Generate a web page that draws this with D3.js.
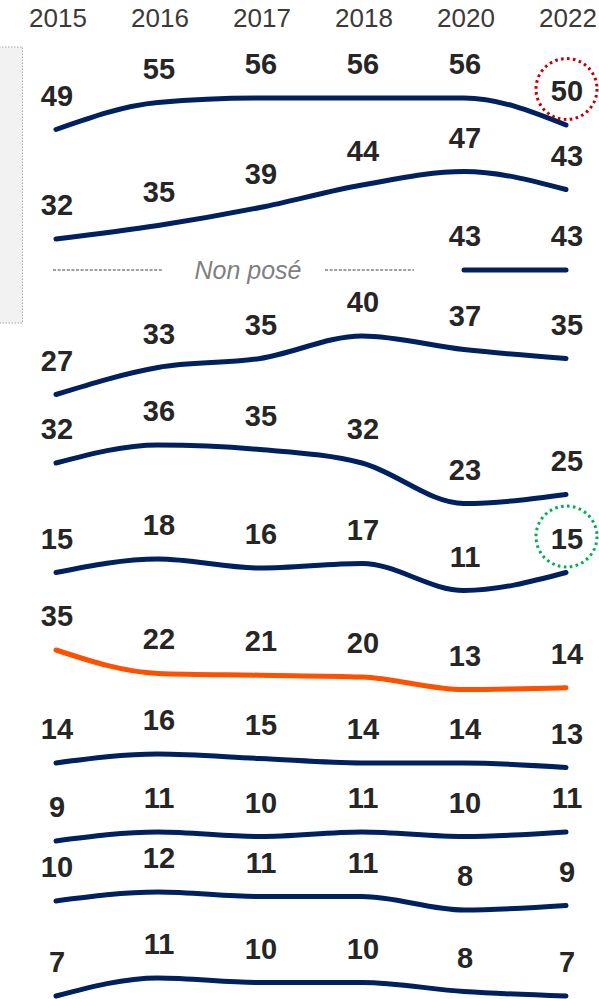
<!DOCTYPE html>
<html>
<head>
<meta charset="utf-8">
<script src="https://cdn.jsdelivr.net/npm/d3@7/dist/d3.min.js"></script>
<style>
  html, body { margin: 0; padding: 0; background: #fff; }
  svg { display: block; font-family: "Liberation Sans", Arial, sans-serif; }
</style>
</head>
<body>
<svg id="chart" width="599" height="999"></svg>
<script>
// ---- Data ----
const years = ["2015", "2016", "2017", "2018", "2020", "2022"];
const row1 = [49, 55, 56, 56, 56, 50];
const row2 = [32, 35, 39, 44, 47, 43];
const row3 = [null, null, null, null, 43, 43];
const row4 = [27, 33, 35, 40, 37, 35];
const row5 = [32, 36, 35, 32, 23, 25];
const row6 = [15, 18, 16, 17, 11, 15];
const row7 = [35, 22, 21, 20, 13, 14];
const row8 = [14, 16, 15, 14, 14, 13];
const row9 = [9, 11, 10, 11, 10, 11];
const row10 = [10, 12, 11, 11, 8, 9];
const row11 = [7, 11, 10, 10, 8, 7];
const rows = [row1, row2, row3, row4, row5, row6, row7, row8, row9, row10, row11];
const highlightRows = [0, 5];          // rows with a circled 2022 value
const highlightYear = "2022";
const notAskedText = "Non posé";

// ---- Layout (code, not data) ----
const rowBase = [350, 383, 463.5, 516, 607, 640, 713, 826, 881.5, 946, 1027.5];
const rowScaleK = [4.5, 4.5, 4.5, 4.5, 4.5, 4.5, 1.8, 4.5, 4.5, 4.5, 4.5];
const rowColor = ["#002060","#002060","#002060","#002060","#002060","#002060","#ff5000","#002060","#002060","#002060","#002060"];
const circleColor = ["#c00000", "#00b050"];

const svg = d3.select("#chart");
const x = d3.scalePoint().domain(years).range([56, 566]);

// grey side box
svg.append("rect")
  .attr("x", -1).attr("y", 47).attr("width", 23.5).attr("height", 276)
  .attr("fill", "#f2f2f2").attr("stroke", "#a6a6a6")
  .attr("stroke-width", 1).attr("stroke-dasharray", "1.5 1.5");

// year header
svg.append("g").selectAll("text").data(years).join("text")
  .attr("x", d => x(d) + 2).attr("y", 27)
  .attr("text-anchor", "middle")
  .attr("font-size", 26).attr("fill", "#3a3a3a")
  .text(d => d);

const yFor = (i) => d3.scaleLinear().domain([0, 100]).range([rowBase[i], rowBase[i] - 100 * rowScaleK[i]]);

rows.forEach((vals, i) => {
  const y = yFor(i);
  const pts = years.map((yr, j) => ({ yr, v: vals[j] }));
  const line = d3.line()
    .defined(d => d.v != null)
    .x(d => x(d.yr)).y(d => y(d.v))
    .curve(d3.curveMonotoneX);
  svg.append("path")
    .attr("d", line(pts))
    .attr("fill", "none")
    .attr("stroke", rowColor[i])
    .attr("stroke-width", 5)
    .attr("stroke-linecap", "round");
  svg.append("g").selectAll("text").data(pts.filter(d => d.v != null)).join("text")
    .attr("x", d => x(d.yr) + 1)
    .attr("y", d => y(d.v) - 24)
    .attr("text-anchor", "middle")
    .attr("font-size", 29).attr("font-weight", "bold")
    .attr("fill", "#262626")
    .text(d => d.v);
});

// "Non posé" row
{
  const i = 2;
  const y = yFor(i);
  const yy = y(row3[4]);
  svg.append("line").attr("x1", 53).attr("x2", 163).attr("y1", yy).attr("y2", yy)
    .attr("stroke", "#404040").attr("stroke-width", 1).attr("stroke-dasharray", "3 1.6");
  svg.append("line").attr("x1", 325).attr("x2", 414).attr("y1", yy).attr("y2", yy)
    .attr("stroke", "#404040").attr("stroke-width", 1).attr("stroke-dasharray", "3 1.6");
  svg.append("text").attr("x", 248).attr("y", yy + 9)
    .attr("text-anchor", "middle").attr("font-size", 25)
    .attr("font-style", "italic").attr("fill", "#7f7f7f")
    .text(notAskedText);
}

// highlight circles
highlightRows.forEach((ri, k) => {
  const y = yFor(ri);
  const j = years.indexOf(highlightYear);
  svg.append("circle")
    .attr("cx", x(highlightYear) + 0.5)
    .attr("cy", y(rows[ri][j]) - 36)
    .attr("r", 30.5)
    .attr("fill", "none")
    .attr("stroke", circleColor[k])
    .attr("stroke-width", 3)
    .attr("stroke-dasharray", "2.6 3.4");
});
</script>
</body>
</html>
